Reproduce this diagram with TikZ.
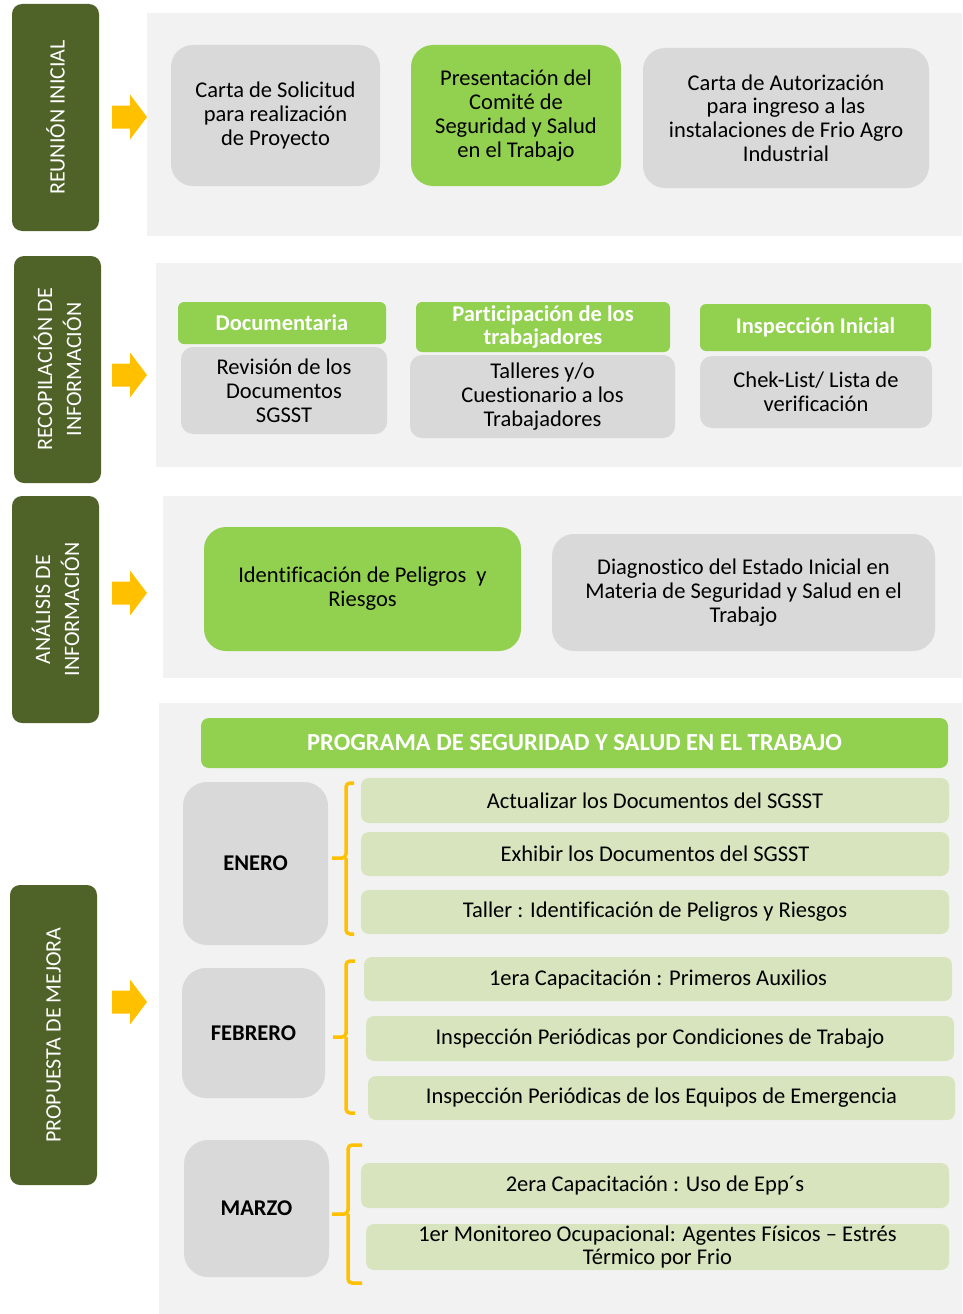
\documentclass[tikz,border=0pt]{standalone}
\usepackage{fontspec}
\setmainfont{Carlito}[Ligatures={NoCommon}]
\definecolor{cdark}{HTML}{4F6228}
\definecolor{cbg}{HTML}{F2F2F2}
\definecolor{cgray}{HTML}{D9D9D9}
\definecolor{cgreen}{HTML}{92D050}
\definecolor{clight}{HTML}{D7E4BD}
\definecolor{cyellow}{HTML}{FFC000}
\newcommand\fs{\fontsize{22.5}{23.8}\selectfont}
\newcommand\fh{\fontsize{24.5}{26}\selectfont}
\newcommand\fl{\fontsize{22}{29}\selectfont}
% box by corners: name, style, x1, y1, x2, y2, text
\newcommand\bx[7]{\node[#2, minimum width={(#5-#3)*1pt}, minimum height={(#6-#4)*1pt}] (#1) at ({(#3+#5)/2},{(#4+#6)/2}) {#7};}
% rotated label box by corners
\newcommand\lbx[6]{\node[labelbox, rotate=90, minimum width={(#5-#3)*1pt}, minimum height={(#4-#2)*1pt}] (#1) at ({(#2+#4)/2},{(#3+#5)/2}) {#6};}
% yellow block arrow centred at y
\newcommand\yarrow[1]{\fill[cyellow] (112,#1-11.5) -- (130,#1-11.5) -- (130,#1-22.5) -- (147,#1) -- (130,#1+22.5) -- (130,#1+11.5) -- (112,#1+11.5) -- cycle;}
% bracket: xright, xvert, xtip, ytop, ymid, ybot
\newcommand\brk[6]{\draw[bracket] (#1,#4) -- (#2,#4) -- (#2,#5) -- (#3,#5); \draw[bracket] (#2,#5) -- (#2,#6) -- (#1,#6);}
\begin{document}
\begin{tikzpicture}[x=1pt,y=-1pt,
  base/.style={inner sep=0pt, outer sep=0pt, align=center, font=\fs, text=black},
  bgbox/.style={fill=cbg, inner sep=0pt, outer sep=0pt},
  graybox/.style={base, fill=cgray, rounded corners=22pt},
  greenbox/.style={base, fill=cgreen, rounded corners=22pt},
  hdr/.style={base, fill=cgreen, rounded corners=6pt, text=white, font=\fs\bfseries},
  item/.style={base, fill=clight, rounded corners=8pt},
  month/.style={base, fill=cgray, rounded corners=24pt, font=\fs\bfseries},
  labelbox/.style={base, fill=cdark, rounded corners=10pt, text=white, font=\fl},
  bracket/.style={draw=cyellow, line width=3.5pt, rounded corners=4pt}]
\useasboundingbox (0,0) rectangle (962,1314);

% ---------- Section 1
\bx{bg1}{bgbox}{147}{13}{962}{236}{}
\lbx{lab1}{12}{4}{99}{231}{REUNIÓN INICIAL}
\yarrow{117}
\bx{b11}{graybox}{171}{45}{380}{186}{Carta de Solicitud\\para realización\\de Proyecto}
\bx{b12}{greenbox}{411}{45}{621}{186}{Presentación del\\Comité de\\Seguridad y Salud\\en el Trabajo}
\bx{b13}{graybox}{643}{48}{929}{188}{Carta de Autorización\\para ingreso a las\\instalaciones de Frio Agro\\Industrial}

% ---------- Section 2
\bx{bg2}{bgbox}{156}{263}{962}{467}{}
\lbx{lab2}{14}{256}{101}{483}{RECOPILACIÓN DE\\INFORMACIÓN}
\yarrow{375}
\bx{h21}{hdr}{178}{302}{386}{344}{Documentaria}
\bx{g21}{graybox,rounded corners=12pt}{181}{347}{387}{434}{Revisión de los\\Documentos\\SGSST}
\bx{h22}{hdr}{416}{302}{670}{352}{Participación de los\\trabajadores}
\bx{g22}{graybox,rounded corners=12pt}{410}{355}{675}{438}{Talleres y/o\\Cuestionario a los\\Trabajadores}
\bx{h23}{hdr}{700}{304}{931}{351}{Inspección Inicial}
\bx{g23}{graybox,rounded corners=12pt}{700}{356}{932}{428}{Chek-List/ Lista de\\verificación}

% ---------- Section 3
\bx{bg3}{bgbox}{163}{496}{962}{678}{}
\lbx{lab3}{12}{496}{99}{723}{ANÁLISIS DE\\INFORMACIÓN}
\yarrow{593}
\bx{b31}{greenbox}{204}{527}{521}{651}{Identificación de Peligros\ \ y\\Riesgos}
\bx{b32}{graybox}{552}{534}{935}{651}{Diagnostico del Estado Inicial en\\Materia de Seguridad y Salud en el\\Trabajo}

% ---------- Section 4
\bx{bg4}{bgbox}{159}{703}{962}{1314}{}
\lbx{lab4}{10}{885}{97}{1185}{PROPUESTA DE MEJORA}
\yarrow{1002}
\bx{hdr4}{hdr,rounded corners=8pt,font=\fh\bfseries}{201}{718}{948}{768}{PROGRAMA DE SEGURIDAD Y SALUD EN EL TRABAJO}

\bx{m1}{month}{183}{782}{328}{945}{ENERO}
\brk{354}{346}{332}{783}{858}{934}
\bx{i11}{item}{361}{778}{949}{823}{Actualizar los Documentos del SGSST}
\bx{i12}{item}{361}{832}{949}{876}{Exhibir los Documentos del SGSST}
\bx{i13}{item}{361}{890}{949}{934}{Taller : Identificación de Peligros y Riesgos}

\bx{m2}{month}{182}{968}{325}{1098}{FEBRERO}
\brk{355}{346}{333}{961}{1037}{1113}
\bx{i21}{item}{364}{957}{952}{1001}{1era Capacitación : Primeros Auxilios}
\bx{i22}{item}{366}{1016}{954}{1061}{Inspección Periódicas por Condiciones de Trabajo}
\bx{i23}{item}{368}{1076}{955}{1120}{Inspección Periódicas de los Equipos de Emergencia}

\bx{m3}{month}{184}{1140}{329}{1277}{MARZO}
\brk{362}{348}{332}{1145}{1214}{1283}
\bx{i31}{item}{361}{1163}{949}{1208}{2era Capacitación : Uso de Epp´s}
\bx{i32}{item}{366}{1224}{949}{1270}{1er Monitoreo Ocupacional: Agentes Físicos – Estrés\\Térmico por Frio}
\end{tikzpicture}
\end{document}
